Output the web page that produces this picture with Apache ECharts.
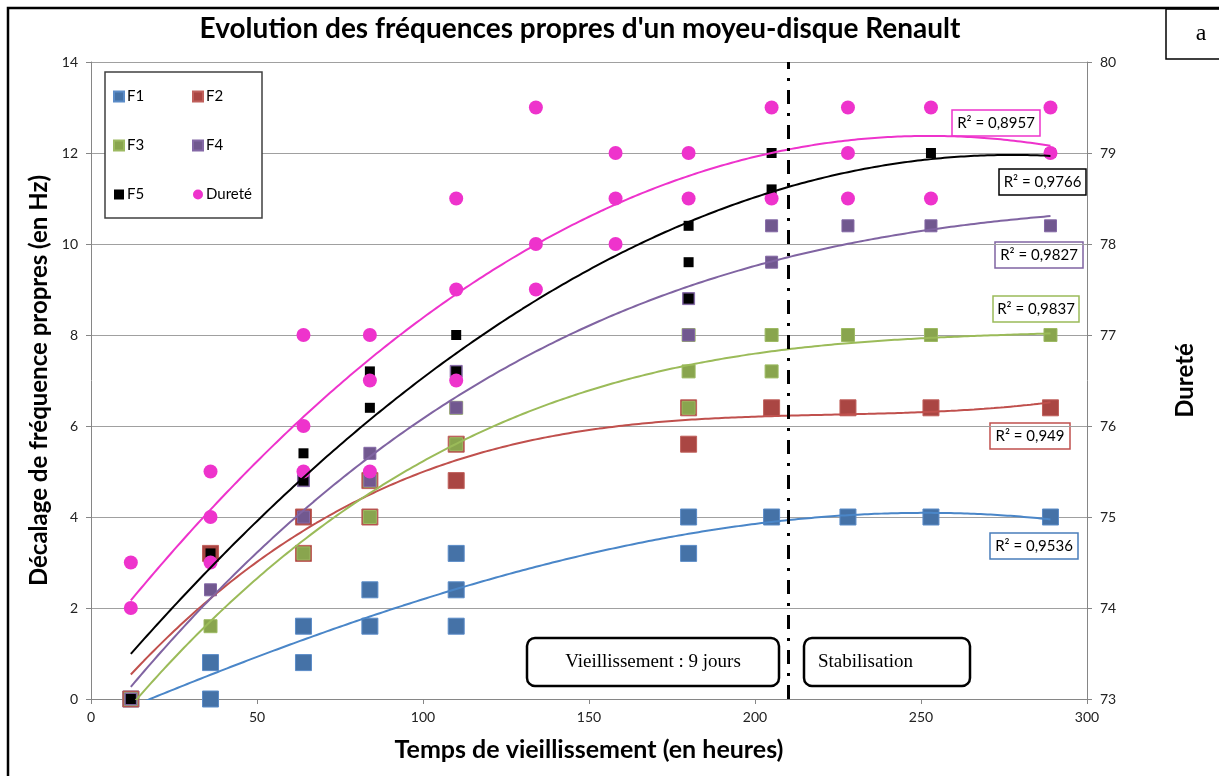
<!DOCTYPE html>
<html>
<head>
<meta charset="utf-8">
<script src="https://cdn.jsdelivr.net/npm/echarts@6/dist/echarts.min.js"></script>
<style>
  html, body { margin: 0; padding: 0; background: #fff; }
  #chart { width: 1219px; height: 776px; }
</style>
</head>
<body>
<div id="chart"></div>
<script>
// Measurement times (hours of ageing)
const hours = [12, 36, 64, 84, 110, 134, 158, 180, 205, 228, 253, 289];

// Natural-frequency shifts (Hz), all readings taken at each time
const f1 = [[0], [0, 0.8], [0.8, 1.6], [1.6, 2.4], [1.6, 2.4, 3.2], [], [], [3.2, 4], [4], [4], [4], [4]];
const f2 = [[0], [3.2], [3.2, 4], [4, 4.8], [4.8, 5.6], [], [], [5.6, 6.4], [6.4], [6.4], [6.4], [6.4]];
const f3 = [[0], [1.6], [3.2], [4, 4.8], [5.6, 6.4], [], [], [6.4, 7.2, 8], [7.2, 8], [8], [8], [8]];
const f4 = [[0], [2.4], [4, 4.8], [4.8, 5.4], [6.4, 7.2], [], [], [8, 8.8], [9.6, 10.4], [10.4], [10.4], [10.4]];
const f5 = [[0], [3.2], [4.8, 5.4], [6.4, 7.2], [7.2, 8], [], [], [8.8, 9.6, 10.4], [11.2, 12], [12], [12], [12]];

// Hardness readings (right axis)
const durete = [[74, 74.5], [74.5, 75, 75.5], [75.5, 76, 77], [75.5, 76.5, 77], [76.5, 77.5, 78.5],
                [77.5, 78, 79.5], [78, 78.5, 79], [78.5, 79], [78.5, 79.5], [78.5, 79, 79.5],
                [78.5, 79.5], [79, 79.5]];

// Coefficients of determination of the polynomial trend lines
const r2Labels = ['R² = 0,9536', 'R² = 0,949', 'R² = 0,9837', 'R² = 0,9827', 'R² = 0,9766', 'R² = 0,8957'];

// Boundary between ageing and stabilisation phases (hours)
const stabilisationStart = 210;

// Axis ranges and tick steps
const xTicks = { min: 0, max: 300, step: 50 };
const hzTicks = { min: 0, max: 14, step: 2 };
const hardTicks = { min: 73, max: 80, step: 1 };

function toPoints(values) {
  const pts = [];
  values.forEach((list, i) => list.forEach(v => pts.push([hours[i], v])));
  return pts;
}

// Least-squares polynomial regression (like a spreadsheet trend line)
function polyfit(pts, deg) {
  const n = deg + 1;
  const A = Array.from({ length: n }, () => new Array(n + 1).fill(0));
  pts.forEach(([x0, y]) => {
    const x = x0 / 100;
    for (let r = 0; r < n; r++) {
      for (let c = 0; c < n; c++) A[r][c] += Math.pow(x, r + c);
      A[r][n] += y * Math.pow(x, r);
    }
  });
  for (let i = 0; i < n; i++) {
    let p = i;
    for (let k = i + 1; k < n; k++) if (Math.abs(A[k][i]) > Math.abs(A[p][i])) p = k;
    [A[i], A[p]] = [A[p], A[i]];
    for (let k = i + 1; k < n; k++) {
      const f = A[k][i] / A[i][i];
      for (let c = i; c <= n; c++) A[k][c] -= f * A[i][c];
    }
  }
  const coef = new Array(n).fill(0);
  for (let i = n - 1; i >= 0; i--) {
    let s = A[i][n];
    for (let c = i + 1; c < n; c++) s -= A[i][c] * coef[c];
    coef[i] = s / A[i][i];
  }
  return x0 => coef.reduce((acc, c, k) => acc + c * Math.pow(x0 / 100, k), 0);
}

function trend(pts, deg) {
  const f = polyfit(pts, deg);
  const xs = pts.map(p => p[0]);
  const lo = Math.min(...xs), hi = Math.max(...xs);
  const out = [];
  for (let x = lo; x <= hi; x += 1) out.push([x, f(x)]);
  return out;
}

const series = [
  { name: 'F1', values: f1, deg: 3, color: '#4572A7', edge: '#5B8CC8', line: '#4A86C8', size: 16, symbol: 'rect', axis: 0 },
  { name: 'F2', values: f2, deg: 3, color: '#AA4643', edge: '#C0605C', line: '#C0504D', size: 16, symbol: 'rect', axis: 0 },
  { name: 'F3', values: f3, deg: 3, color: '#89A54E', edge: '#9DBA62', line: '#9BBB59', size: 13, symbol: 'rect', axis: 0 },
  { name: 'F4', values: f4, deg: 3, color: '#71588F', edge: '#8468A6', line: '#8064A2', size: 12, symbol: 'rect', axis: 0 },
  { name: 'F5', values: f5, deg: 2, color: '#000000', edge: '#000000', line: '#000000', size: 10, symbol: 'rect', axis: 0 },
  { name: 'Dureté', values: durete, deg: 3, color: '#EE33CC', edge: '#EE33CC', line: '#EE33CC', size: 14, symbol: 'circle', axis: 1 }
];

const chartSeries = [];
series.forEach((s, i) => {
  chartSeries.push({
    name: s.name,
    type: 'scatter',
    yAxisIndex: s.axis,
    symbol: s.symbol,
    symbolSize: s.size,
    z: 2 + i * 0.01,
    itemStyle: { color: s.color, borderColor: s.edge, borderWidth: s.name === 'F5' || s.name === 'Dureté' ? 0 : 1, opacity: 1 },
    emphasis: { disabled: true },
    data: toPoints(s.values)
  });
});
series.forEach((s, i) => {
  chartSeries.push({
    name: s.name + ' (tendance)',
    type: 'line',
    yAxisIndex: s.axis,
    showSymbol: false,
    symbol: 'none',
    silent: true,
    z: 3 + i * 0.01,
    lineStyle: { color: s.line, width: 2 },
    data: trend(toPoints(s.values), s.deg)
  });
});
chartSeries.push({
  name: 'phase',
  type: 'line',
  data: [],
  markLine: {
    silent: true,
    symbol: 'none',
    label: { show: false },
    lineStyle: { color: '#000', width: 3, type: [14, 9, 3, 9] },
    data: [{ xAxis: stabilisationStart }]
  },
  z: 4
});

const sans = 'Lato, "Open Sans", sans-serif';
const serif = '"Liberation Serif", "DejaVu Serif", serif';

// Boxed R² labels, placed to the right of each trend line
const r2Boxes = [
  { x: 990, y: 533, w: 88, color: '#4A7EBB' },
  { x: 990, y: 423, w: 80, color: '#C0504D' },
  { x: 993, y: 296, w: 86, color: '#9BBB59' },
  { x: 995, y: 242, w: 88, color: '#8064A2' },
  { x: 999, y: 169, w: 87, color: '#000000' },
  { x: 952, y: 110, w: 88, color: '#EE33CC' }
];

function boxedText(x, y, w, h, text, color, font, radius, lw, align) {
  return {
    type: 'group',
    children: [
      { type: 'rect', shape: { x: x, y: y, width: w, height: h, r: radius }, style: { fill: '#fff', stroke: color, lineWidth: lw } },
      { type: 'text', style: { x: align === 'left' ? x + 14 : x + w / 2, y: y + h / 2, text: text, textAlign: align || 'center', textVerticalAlign: 'middle', font: font, fill: '#000' } }
    ],
    z: 10
  };
}

const graphics = [
  // outer frame
  { type: 'polyline', shape: { points: [[8, 780], [8, 8], [1230, 8]] }, style: { stroke: '#000', lineWidth: 2.5, fill: null }, z: 20 },
  // panel tag
  boxedText(1166, 9, 70, 50, 'a', '#000', '24px ' + serif, 0, 1.5),
  // title
  { type: 'text', style: { x: 580, y: 29, text: "Evolution des fréquences propres d'un moyeu-disque Renault", textAlign: 'center', textVerticalAlign: 'middle', font: 'bold 28px ' + sans, fill: '#000' }, z: 10 },
  // legend frame
  { type: 'rect', shape: { x: 105, y: 72, width: 157, height: 146 }, style: { fill: '#fff', stroke: '#404040', lineWidth: 1.5 }, z: 5 },
  // phase annotations
  boxedText(527, 638, 252, 48, 'Vieillissement : 9 jours', '#000', '19px ' + serif, 8, 2.5),
  boxedText(804, 638, 166, 48, 'Stabilisation', '#000', '19px ' + serif, 8, 2.5, 'left')
];
r2Boxes.forEach((b, i) => graphics.push(boxedText(b.x, b.y, b.w, 26, r2Labels[i], b.color, '15px ' + sans, 0, 1.5)));

const axisLineStyle = { lineStyle: { color: '#868686', width: 1 } };
const tickLabel = { color: '#222', fontSize: 14, fontFamily: sans };
const legendText = { fontSize: 15, lineHeight: 15, fontFamily: sans, color: '#000', padding: [0, 0, 0, -2] };

const option = {
  backgroundColor: '#fff',
  animation: false,
  grid: { left: 91, right: 132, top: 62, bottom: 77 },
  legend: [
    { data: ['F1', 'F3', 'F5'], orient: 'vertical', left: 113, top: 89, itemGap: 34, itemWidth: 10, itemHeight: 10, padding: 0, selectedMode: false, textStyle: legendText, z: 6 },
    { data: ['F2', 'F4', 'Dureté'], orient: 'vertical', left: 192, top: 89, itemGap: 34, itemWidth: 10, itemHeight: 10, padding: 0, selectedMode: false, textStyle: legendText, z: 6 }
  ],
  xAxis: {
    type: 'value',
    min: xTicks.min, max: xTicks.max, interval: xTicks.step,
    name: 'Temps de vieillissement (en heures)',
    nameLocation: 'middle', nameGap: 38,
    nameTextStyle: { fontSize: 25, fontWeight: 'bold', fontFamily: sans, color: '#000' },
    axisLine: axisLineStyle,
    axisTick: { show: true, length: 5, lineStyle: { color: '#868686' } },
    axisLabel: Object.assign({ margin: 11 }, tickLabel),
    splitLine: { show: false }
  },
  yAxis: [
    {
      type: 'value',
      min: hzTicks.min, max: hzTicks.max, interval: hzTicks.step,
      name: 'Décalage de fréquence propres (en Hz)',
      nameLocation: 'middle', nameGap: 37, nameRotate: 90,
      nameTextStyle: { fontSize: 24, fontWeight: 'bold', fontFamily: sans, color: '#000' },
      axisLine: Object.assign({ show: true }, axisLineStyle),
      axisTick: { show: true, length: 5, lineStyle: { color: '#868686' } },
      axisLabel: Object.assign({ margin: 13 }, tickLabel),
      splitLine: { show: true, lineStyle: { color: '#A0A0A0', width: 1 } }
    },
    {
      type: 'value',
      min: hardTicks.min, max: hardTicks.max, interval: hardTicks.step,
      name: 'Dureté',
      nameLocation: 'middle', nameGap: 86, nameRotate: 90,
      nameTextStyle: { fontSize: 24, fontWeight: 'bold', fontFamily: sans, color: '#000' },
      axisLine: Object.assign({ show: true }, axisLineStyle),
      axisTick: { show: true, length: 5, lineStyle: { color: '#868686' } },
      axisLabel: Object.assign({ margin: 13 }, tickLabel),
      splitLine: { show: false }
    }
  ],
  graphic: graphics,
  series: chartSeries
};

const chart = echarts.init(document.getElementById('chart'), null, { renderer: 'canvas' });
chart.setOption(option);
</script>
</body>
</html>
